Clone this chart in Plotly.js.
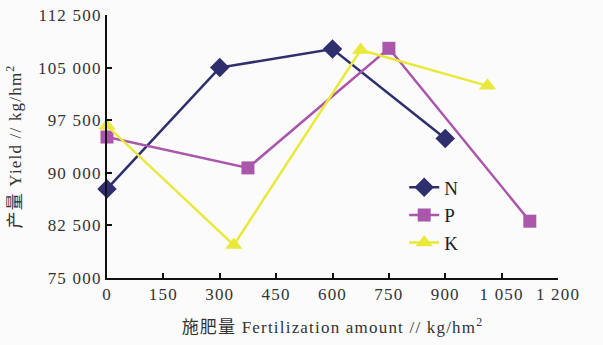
<!DOCTYPE html>
<html><head><meta charset="utf-8">
<script src="https://cdn.plot.ly/plotly-3.0.1.min.js"></script>
<style>
body{margin:0;padding:0;background:#fbfbfb}
.xtick text, .ytick text, .xtitle, .ytitle { letter-spacing: 1.2px; }
</style>
</head><body>
<div id="chart" style="width:603px;height:345px"></div>
<script>
const nX = [0, 300, 600, 900];
const nY = [87700, 105000, 107650, 94900];
const pX = [0, 375, 750, 1125];
const pY = [95100, 90700, 107750, 83100];
const kX = [0, 337.5, 675, 1012.5];
const kY = [96700, 79700, 107500, 102400];
const xTicks = [0, 150, 300, 450, 600, 750, 900, 1050, 1200];
const xTickText = ["0", "150", "300", "450", "600", "750", "900", "1 050", "1 200"];
const yTicks = [75000, 82500, 90000, 97500, 105000, 112500];
const yTickText = ["75 000", "82 500", "90 000", "97 500", "105 000", "112 500"];

const serif = "Liberation Serif, Noto Sans CJK SC, serif";
const traces = [
  {x: nX, y: nY, name: "N", mode: "lines+markers", cliponaxis: false,
   line: {color: "#2e2f6c", width: 2.5}, marker: {symbol: "diamond", size: 15, color: "#2e2f6c"}},
  {x: pX, y: pY, name: "P", mode: "lines+markers", cliponaxis: false,
   line: {color: "#aa56ab", width: 2.5}, marker: {symbol: "square", size: 13, color: "#aa56ab"}},
  {x: kX, y: kY, name: "K", mode: "lines+markers", cliponaxis: false,
   line: {color: "#e9e93c", width: 2.5}, marker: {symbol: "triangle-up", size: 15, color: "#e9e93c"}}
];
const layout = {
  width: 603, height: 345,
  margin: {l: 107, r: 45, t: 15, b: 67},
  paper_bgcolor: "#fbfbfb", plot_bgcolor: "#fbfbfb",
  font: {family: serif, size: 17, color: "#333"},
  showlegend: true,
  legend: {x: 0.659, y: 0.417, xanchor: "left", yanchor: "top", bgcolor: "rgba(0,0,0,0)",
           font: {family: serif, size: 19, color: "#222"}, tracegroupgap: 0},
  xaxis: {range: [0, 1200], tickvals: xTicks, ticktext: xTickText, showgrid: false, zeroline: false,
          showline: true, linecolor: "#111", linewidth: 2, ticks: "inside", ticklen: 5, tickwidth: 2, tickcolor: "#111",
          tickfont: {family: serif, size: 17, color: "#333"},
          title: {text: "施肥量 Fertilization amount // kg/hm<sup>2</sup>", font: {family: serif, size: 17, color: "#333"}, standoff: 18}},
  yaxis: {range: [75000, 112500], tickvals: yTicks, ticktext: yTickText, showgrid: false, zeroline: false,
          showline: true, linecolor: "#111", linewidth: 2, ticks: "inside", ticklen: 5, tickwidth: 2, tickcolor: "#111",
          tickfont: {family: serif, size: 17, color: "#333"},
          title: {text: "产量 Yield // kg/hm<sup>2</sup>", font: {family: serif, size: 17, color: "#333"}, standoff: 12}}
};
Plotly.newPlot("chart", traces, layout, {displayModeBar: false, staticPlot: true});
</script>
</body></html>
